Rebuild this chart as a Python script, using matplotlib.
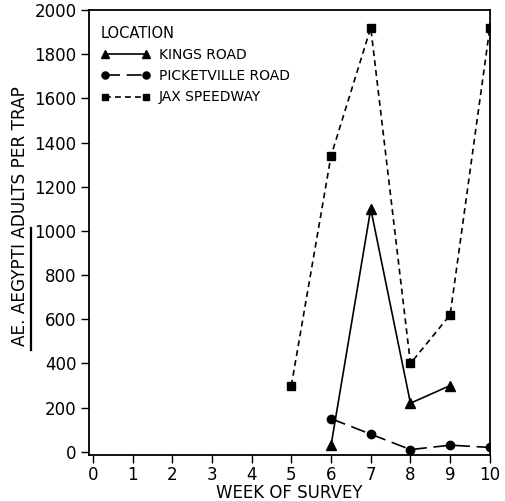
import matplotlib.pyplot as plt
from matplotlib.lines import Line2D

plt.rcParams['font.family'] = ['DejaVu Sans']

weeks_kings = [6, 7, 8, 9]
kings_road = [30, 1100, 220, 300]

weeks_picket = [6, 7, 8, 9, 10]
picketville_road = [150, 80, 10, 30, 20]

weeks_jax = [5, 6, 7, 8, 9, 10]
jax_speedway = [300, 1340, 1920, 400, 620, 1920]

x_ticks = list(range(0, 11))
y_ticks = list(range(0, 2001, 200))

fig = plt.figure(figsize=(5.05, 5.01), dpi=100)
ax = fig.add_axes([0.176, 0.092, 0.794, 0.888])

ax.plot(weeks_kings, kings_road, color='black', lw=1.2, ls='-',
        marker='^', ms=6.5, label='KINGS ROAD')
ax.plot(weeks_picket, picketville_road, color='black', lw=1.2,
        dashes=(9, 4), marker='o', ms=6, label='PICKETVILLE ROAD')
ax.plot(weeks_jax, jax_speedway, color='black', lw=1.2,
        dashes=(3.5, 2.5), marker='s', ms=5.5, label='JAX SPEEDWAY')

ax.set_xlim(-0.1, 10)
ax.set_ylim(-14, 2000)
ax.set_xticks(x_ticks)
ax.set_yticks(y_ticks)
ax.tick_params(direction='out', length=6, width=1, labelsize=12, pad=3)
ax.tick_params(axis='x', pad=2)
for s in ax.spines.values():
    s.set_linewidth(1.3)

ax.set_xlabel('WEEK OF SURVEY', fontsize=12)
ax.xaxis.set_label_coords(0.5, -0.066)
ax.set_ylabel('AE. AEGYPTI ADULTS PER TRAP', fontsize=12.2)
ax.yaxis.set_label_coords(-0.15, 0.537)

leg = ax.legend(title='LOCATION', loc='upper left', bbox_to_anchor=(0.015, 0.977),
                frameon=False, numpoints=2, handlelength=3.6, handletextpad=0.6,
                labelspacing=0.52, fontsize=10, title_fontsize=10.5,
                alignment='left', borderaxespad=0, markerscale=0.85)

# underline the species name on the y label
fig.add_artist(Line2D([31 / 505, 31 / 505], [1 - 350 / 501, 1 - 228 / 501],
                      color='black', lw=1.6, transform=fig.transFigure))

fig.savefig('out.png', dpi=100)
